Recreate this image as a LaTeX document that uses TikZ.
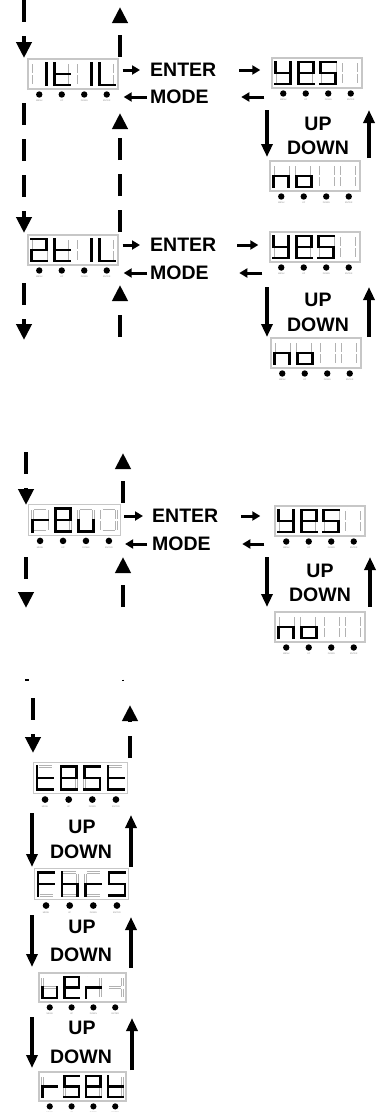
\documentclass[tikz,border=0pt]{standalone}
\usepackage{fontspec}
\setmainfont{Liberation Sans}
\usetikzlibrary{arrows.meta,calc}

\tikzset{
  lcdbox/.style={draw=black!22, line width=1.4pt, fill=white, minimum width=90pt, minimum height=30pt, inner sep=0pt},
  segoff/.style={draw=black!30, line width=0.5pt, double=white, double distance=1.4pt, shorten <=1.4pt, shorten >=1.4pt},
  segon/.style={draw=black, line width=2.6pt, line cap=rect},
  seg a/.style={insert path={(-7.5,-11)--(7.5,-11)}},
  seg b/.style={insert path={(7.5,-11)--(7.5,0)}},
  seg c/.style={insert path={(7.5,0)--(7.5,11)}},
  seg d/.style={insert path={(-7.5,11)--(7.5,11)}},
  seg e/.style={insert path={(-7.5,0)--(-7.5,11)}},
  seg f/.style={insert path={(-7.5,-11)--(-7.5,0)}},
  seg g/.style={insert path={(-7.5,0)--(7.5,0)}},
  seg x/.style={},
  keytxt/.style={font=\fontsize{2.2}{2.2}\selectfont, text=black!45, inner sep=0pt},
  lbl/.style={font=\bfseries\fontsize{19.5}{20}\selectfont, inner sep=0pt},
  flow/.style={line width=4pt, dash pattern=on 22pt off 14pt, -{Triangle[width=15pt,length=16pt]}},
  keyarr/.style={line width=3pt, -{Triangle[width=9pt,length=8pt]}},
  updn/.style={line width=3.3pt, -{Triangle[width=11pt,length=13pt]}}
}

% one seven segment digit, #1 = x offset, #2 = lit segments
\newcommand\lcddigit[2]{%
  \begin{scope}[xshift=#1]
    \foreach \sg in {a,b,c,d,e,f,g} {\draw[segoff, seg \sg];}
    \foreach \sg in {#2} {\draw[segon, seg \sg];}
  \end{scope}}

% display with four digits and the key row
\newcommand\lcd[7]{%
  \begin{scope}[shift={(#2)}, scale=#3]
    \node[lcdbox, transform shape] (#1) at (0,0) {};
    \lcddigit{-33.75}{#4}\lcddigit{-11.25}{#5}\lcddigit{11.25}{#6}\lcddigit{33.75}{#7}
    \foreach \kx/\kl in {-33.75/MENU,-11.25/UP,11.25/DOWN,33.75/ENTER} {
      \fill (\kx,20.5) circle (3.2);
      \node[keytxt] at (\kx,27) {\kl};
    }
  \end{scope}}

\begin{document}
\begin{tikzpicture}[x=1pt,y=-1pt]
  \useasboundingbox (0,0) rectangle (382,1112);

  % first block
  \lcd{tl1}{73,74}{1}{b,c}{f,e,g,d}{b,c}{f,e,d}
  \lcd{yes1}{317,73}{1}{f,b,g,c,d}{a,b,f,g,e,d}{a,f,g,c,d}{x}
  \lcd{no1}{315,176}{1}{e,g,c}{g,c,d,e}{x}{x}
  \node[lbl, anchor=west] (ent1) at (150,70) {ENTER};
  \node[lbl, anchor=west] (mod1) at (150,97) {MODE};
  \draw[keyarr] ($(tl1.east |- ent1.west)+(4,0)$) -- ($(ent1.west)+(-10,0)$);
  \draw[keyarr] ($(mod1.west)+(-3,0)$) -- ($(tl1.east |- mod1.west)+(5,0)$);
  \draw[keyarr] ($(yes1.west |- ent1.west)+(-32,0)$) -- ($(yes1.west |- ent1.west)+(-11,0)$);
  \draw[keyarr] ($(yes1.west |- mod1.west)+(-7,0)$) -- ($(yes1.west |- mod1.west)+(-30,0)$);
  \node[lbl] (up1) at (318,124) {UP};
  \node[lbl] (dn1) at (318,148) {DOWN};
  \draw[updn] (267,110) -- (267,157);
  \draw[updn] (369,158) -- (369,110);

  % second block
  \lcd{tl2}{73,250}{1}{a,b,g,e,d}{f,e,g,d}{b,c}{f,e,d}
  \lcd{yes2}{315,247}{1}{f,b,g,c,d}{a,b,f,g,e,d}{a,f,g,c,d}{x}
  \lcd{no2}{316,353}{1}{e,g,c}{g,c,d,e}{x}{x}
  \node[lbl, anchor=west] (ent2) at (150,245) {ENTER};
  \node[lbl, anchor=west] (mod2) at (150,273) {MODE};
  \draw[keyarr] ($(tl2.east |- ent2.west)+(4,0)$) -- ($(ent2.west)+(-10,0)$);
  \draw[keyarr] ($(mod2.west)+(-3,0)$) -- ($(tl2.east |- mod2.west)+(5,0)$);
  \draw[keyarr] ($(yes2.west |- ent2.west)+(-32,0)$) -- ($(yes2.west |- ent2.west)+(-11,0)$);
  \draw[keyarr] ($(yes2.west |- mod2.west)+(-7,0)$) -- ($(yes2.west |- mod2.west)+(-30,0)$);
  \node[lbl] (up2) at (318,300) {UP};
  \node[lbl] (dn2) at (318,325) {DOWN};
  \draw[updn] (267,287) -- (267,337);
  \draw[updn] (369,337) -- (369,287);

  % dashed flow, first two blocks
  \draw[flow] (24,0) -- (24,58);
  \draw[flow] (24,103) -- (24,233);
  \draw[flow] (24,283) -- (24,340);
  \draw[flow] (120,57) -- (120,7);
  \draw[flow] (120,232) -- (120,113);
  \draw[flow] (120,337) -- (120,285);

  % third block
  \lcd{rev}{74.5,520}{1.02}{e,g}{a,b,f,g,e,d}{e,d,c}{x}
  \lcd{yes3}{320,521}{1}{f,b,g,c,d}{a,b,f,g,e,d}{a,f,g,c,d}{x}
  \lcd{no3}{320,627}{1}{e,g,c}{g,c,d,e}{x}{x}
  \node[lbl, anchor=west] (ent3) at (152,516) {ENTER};
  \node[lbl, anchor=west] (mod3) at (152,544) {MODE};
  \draw[keyarr] ($(rev.east |- ent3.west)+(3,0)$) -- ($(ent3.west)+(-9,0)$);
  \draw[keyarr] ($(mod3.west)+(-5,0)$) -- ($(rev.east |- mod3.west)+(4,0)$);
  \draw[keyarr] ($(yes3.west |- ent3.west)+(-33,0)$) -- ($(yes3.west |- ent3.west)+(-14,0)$);
  \draw[keyarr] ($(yes3.west |- mod3.west)+(-10,0)$) -- ($(yes3.west |- mod3.west)+(-32,0)$);
  \node[lbl] (up3) at (320,571) {UP};
  \node[lbl] (dn3) at (320,595) {DOWN};
  \draw[updn] (267,557) -- (267,607);
  \draw[updn] (370,607) -- (370,557);
  \draw[flow] (26,452) -- (26,505);
  \draw[flow] (26,557) -- (26,608);
  \draw[flow] (123,503) -- (123,453);
  \draw[flow] (123,607) -- (123,557);
  \draw[line width=4pt] (27,679) -- (27,681);
  \draw[line width=1.5pt] (123,679.5) -- (123,681);

  % fourth block
  \draw[flow] (33,698) -- (33,753);
  \draw[flow] (130,758) -- (130,705);
  \lcd{test}{80.5,778}{1.05}{f,e,g,d}{a,b,f,g,e,d}{a,f,g,c,d}{f,e,g,d}
  \lcd{fhrs}{81.5,884}{1.05}{a,f,g,e}{f,e,g,c}{e,g}{a,f,g,c,d}
  \lcd{ver}{82.5,987.5}{0.97}{e,d,c}{a,b,f,g,e,d}{e,g}{x}
  \lcd{rset}{82.5,1086.5}{0.97}{e,g}{a,f,g,c,d}{a,b,f,g,e,d}{f,e,g,d}
  \node[lbl] (up4) at (82,827) {UP};
  \node[lbl] (dn4) at (81,852) {DOWN};
  \draw[updn] (32,813) -- (32,867);
  \draw[updn] (131,867) -- (131,815);
  \node[lbl] (up5) at (82,927) {UP};
  \node[lbl] (dn5) at (81,955) {DOWN};
  \draw[updn] (32,915) -- (32,967);
  \draw[updn] (131,968) -- (131,917);
  \node[lbl] (up6) at (82,1028) {UP};
  \node[lbl] (dn6) at (81,1057) {DOWN};
  \draw[updn] (32,1017) -- (32,1068);
  \draw[updn] (132,1070) -- (132,1018);
\end{tikzpicture}
\end{document}
